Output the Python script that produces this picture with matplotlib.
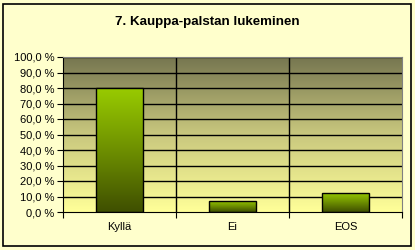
import matplotlib
matplotlib.use("Agg")
import matplotlib.pyplot as plt
import numpy as np
from matplotlib.colors import LinearSegmentedColormap
from matplotlib.patches import Rectangle

categories = ["Kyllä", "Ei", "EOS"]
values = [80.3, 7.3, 12.5]
yticks = [0, 10, 20, 30, 40, 50, 60, 70, 80, 90, 100]
ytick_labels = ["%d,0 %%" % v for v in yticks]
title = "7. Kauppa-palstan lukeminen"

plt.rcParams['font.family'] = ['Liberation Sans', 'DejaVu Sans']

fig = plt.figure(figsize=(4.15, 2.5), dpi=100, facecolor="#FFFFCC")
fig.patches.append(Rectangle((0.008, 0.016), 0.982, 0.97, transform=fig.transFigure,
                             fill=False, edgecolor="black", linewidth=1.2))
ax = fig.add_axes([63 / 415, 1 - 212 / 250, 339 / 415, 155 / 250])

x = np.arange(len(categories))
ax.set_xlim(-0.5, len(categories) - 0.5)
ax.set_ylim(0, 100)

# background gradient of plot area
bg = LinearSegmentedColormap.from_list("bg", ["#FFFF99", "#C9C87E", "#767650"])
grad = np.linspace(0, 1, 256).reshape(-1, 1)
ax.imshow(grad, cmap=bg, aspect="auto", origin="lower",
          extent=(-0.5, len(categories) - 0.5, 0, 100), zorder=0)

# grid lines
for t in yticks[1:]:
    ax.axhline(t, color="black", linewidth=1, zorder=1)
for b in [0.5, 1.5]:
    ax.axvline(b, color="black", linewidth=1, zorder=1)

bars = ax.bar(x, values, width=0.41, facecolor="none", edgecolor="black",
              linewidth=1, zorder=3)
barcm = LinearSegmentedColormap.from_list("bar", ["#3F4F00", "#6E9000", "#99CC00"])
for rect in bars:
    x0 = rect.get_x()
    im = ax.imshow(grad, cmap=barcm, aspect="auto", origin="lower",
                   extent=(x0, x0 + rect.get_width(), 0, rect.get_height()), zorder=2)
    im.set_clip_path(rect)

ax.set_yticks(yticks)
ax.set_yticklabels(ytick_labels, fontsize=8)
ax.set_xticks([-0.5, 0.5, 1.5, 2.5])
ax.set_xticklabels([])
ax.set_xticks(x, minor=True)
ax.set_xticklabels(categories, minor=True, fontsize=8)
ax.tick_params(axis="x", which="minor", length=0, pad=7)
ax.tick_params(axis="x", which="major", length=4, direction="out", color="black")
ax.tick_params(axis="y", length=4, direction="out", pad=2)

for side in ["top", "right"]:
    ax.spines[side].set_color("#808080")
ax.spines["left"].set_color("black")
ax.spines["bottom"].set_color("black")

fig.text(0.5, 1 - 22 / 250, title, ha="center", va="center",
         fontsize=9.6, fontweight="bold")

fig.savefig("out.png", dpi=100, facecolor=fig.get_facecolor())
